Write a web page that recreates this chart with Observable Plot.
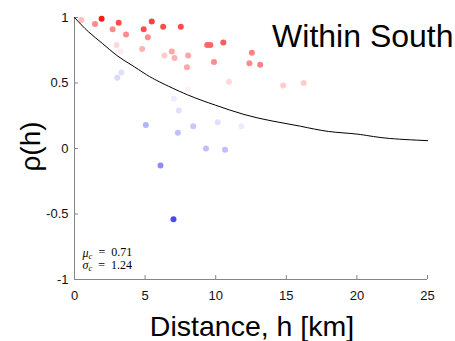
<!DOCTYPE html>
<html>
<head>
<meta charset="utf-8">
<script src="https://cdn.jsdelivr.net/npm/d3@7"></script>
<script src="https://cdn.jsdelivr.net/npm/@observablehq/plot@0.6"></script>
<style>
  body { margin: 0; background: #fff; }
  #chart { width: 455px; height: 341px; }
</style>
</head>
<body>
<div id="chart"></div>
<script>
// Empirical correlations between station pairs: separation distance (km),
// correlation, and a signed shade used to colour each pair (red > 0, blue < 0).
const distance = [0.48, 1.45, 1.92, 3.13, 2.70, 3.65, 5.47, 4.90, 6.28, 7.53,
                  5.19, 2.98, 3.27, 4.79, 6.37, 6.89, 7.08, 8.05, 7.96, 9.40,
                  9.62, 10.54, 9.88, 10.94, 12.56, 12.39, 13.15, 14.78, 16.23, 8.03,
                  3.03, 3.32, 7.04, 7.39, 5.05, 7.32, 8.41, 10.14, 11.82, 9.31,
                  10.66, 6.09, 7.01];
const correlation = [0.98, 0.95, 0.99, 0.96, 0.91, 0.87, 0.97, 0.91, 0.93, 0.93,
                     0.85, 0.79, 0.74, 0.76, 0.71, 0.74, 0.69, 0.71, 0.62, 0.79,
                     0.79, 0.81, 0.66, 0.51, 0.73, 0.65, 0.64, 0.48, 0.50, 0.45,
                     0.54, 0.58, 0.38, 0.29, 0.18, 0.12, 0.17, 0.20, 0.17, 0.00,
                     -0.01, -0.13, -0.54];
const shade = [0.25, 0.45, 0.9, 0.7, 0.45, 0.45, 0.75, 0.7, 0.7, 0.7,
               0.45, 0.15, 0.08, 0.3, 0.2, 0.35, 0.3, 0.35, 0.35, 0.6,
               0.6, 0.65, 0.45, 0.15, 0.5, 0.45, 0.5, 0.2, 0.2, 0.06,
               -0.15, -0.12, -0.07, -0.12, -0.3, -0.25, -0.22, -0.12, -0.08, -0.25,
               -0.25, -0.45, -0.72];

// Fitted correlation model, sampled along distance.
const modelDistance = [0, 1, 2, 3, 4, 5, 6, 8, 10, 12, 14, 16, 18, 20, 22, 25];
const modelCorrelation = [1.00, 0.89, 0.80, 0.71, 0.64, 0.57, 0.51, 0.41, 0.33, 0.26, 0.21, 0.17, 0.13, 0.11, 0.08, 0.06];

const xTicks = [0, 5, 10, 15, 20, 25];
const xTickLabels = ["0", "5", "10", "15", "20", "25"];
const yTicks = [-1, -0.5, 0, 0.5, 1];
const yTickLabels = ["-1", "-0.5", "0", "0.5", "1"];

const title = "Within South";
const xLabel = "Distance, h [km]";
const yLabel = "ρ(h)";
const muLabel = "μ|0.71";
const sigmaLabel = "σ|1.24";

const pairs = distance.map((h, i) => ({h, rho: correlation[i], shade: shade[i]}));
const model = modelDistance.map((h, i) => ({h, rho: modelCorrelation[i]}));

const axisGray = "#858585";
const sans = "'Liberation Sans', Arial, Helvetica, sans-serif";
const serif = "'Liberation Serif', 'DejaVu Serif', serif";

const plot = Plot.plot({
  width: 455,
  height: 341,
  marginLeft: 74,
  marginRight: 28,
  marginTop: 17,
  marginBottom: 62,
  style: {fontFamily: sans, fontSize: "13px", color: "#111", background: "#fff", overflow: "visible"},
  x: {domain: [0, 25]},
  y: {domain: [-1, 1]},
  color: {type: "linear", domain: [-1, 0, 1], range: ["#0000ff", "#ffffff", "#ff0000"], interpolate: "rgb"},
  marks: [
    // axis spines
    Plot.ruleY([-1], {stroke: axisGray, strokeWidth: 1}),
    Plot.ruleX([0], {stroke: axisGray, strokeWidth: 1}),
    // inward tick marks
    Plot.ruleX(xTicks, {x: d => d, y1: -1, y2: -1, insetTop: -4, insetBottom: 0, stroke: axisGray}),
    Plot.ruleY(yTicks, {y: d => d, x1: 0, x2: 0, insetLeft: 0, insetRight: -4, stroke: axisGray}),
    // tick labels
    Plot.axisX(xTicks, {
      tickSize: 0, tickPadding: 11, label: null,
      tickFormat: d => xTickLabels[xTicks.indexOf(d)]
    }),
    Plot.axisY(yTicks, {
      tickSize: 0, tickPadding: 6, label: null,
      tickFormat: d => yTickLabels[yTicks.indexOf(d)]
    }),
    Plot.dot(pairs, {x: "h", y: "rho", r: 3, fill: "shade"}),
    Plot.line(model, {x: "h", y: "rho", curve: "natural", stroke: "#000", strokeWidth: 1}),
    Plot.text([title], {
      frameAnchor: "top-right", textAnchor: "end", lineAnchor: "middle",
      dx: 26, dy: 19, fontSize: 32, fill: "#000", fontFamily: sans
    }),
    Plot.text([xLabel], {
      frameAnchor: "bottom", textAnchor: "middle", lineAnchor: "middle",
      dx: 1, dy: 47, fontSize: 28.5, fill: "#000", fontFamily: sans
    }),
    Plot.text([yLabel], {
      frameAnchor: "left", textAnchor: "middle", lineAnchor: "middle", rotate: -90,
      dx: -43, dy: -2, fontSize: 28, fill: "#000", fontFamily: sans
    }),
    Plot.text([muLabel], {
      frameAnchor: "bottom-left", textAnchor: "start", lineAnchor: "middle",
      dx: 8, dy: -26.5, fontSize: 12, fill: "#000", fontFamily: serif
    }),
    Plot.text([sigmaLabel], {
      frameAnchor: "bottom-left", textAnchor: "start", lineAnchor: "middle",
      dx: 8, dy: -14, fontSize: 12, fill: "#000", fontFamily: serif
    })
  ]
});

// Typeset the fit parameters as μ_c = …, σ_c = …
d3.select(plot).selectAll("text")
  .filter(function () { return this.textContent.includes("|"); })
  .each(function () {
    const [symbol, value] = this.textContent.split("|");
    const t = d3.select(this);
    t.text(null);
    t.append("tspan").attr("font-style", "italic").text(symbol);
    t.append("tspan").attr("font-style", "italic").attr("font-size", "0.72em").attr("dy", "0.22em").text("c");
    t.append("tspan").attr("dy", "-0.22em").text("\u2002=\u2002" + value);
  });

document.getElementById("chart").appendChild(plot);
</script>
</body>
</html>
